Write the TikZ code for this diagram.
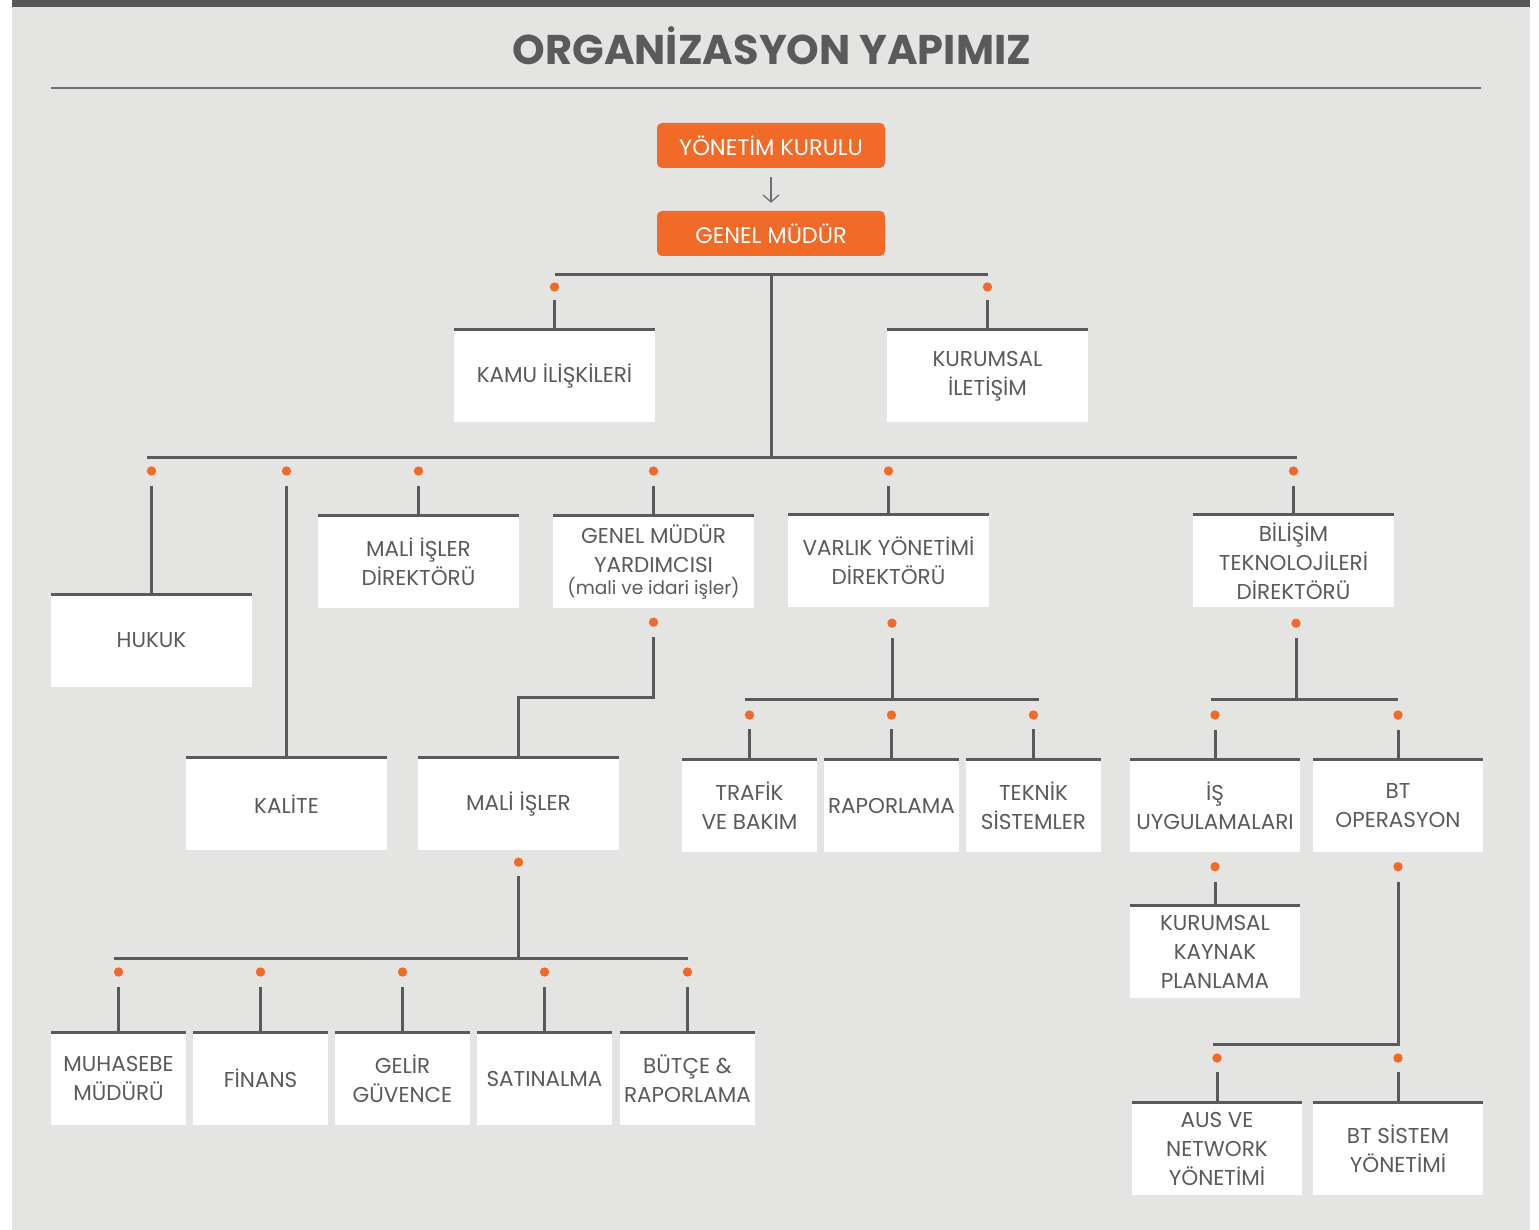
\documentclass[tikz,border=0pt]{standalone}
\usepackage{fontspec}
\setmainfont{Poppins}
\usepackage{xcolor}
\usetikzlibrary{positioning, arrows.meta}

\definecolor{panel}{HTML}{E4E4E2}
\definecolor{topbar}{HTML}{585858}
\definecolor{ink}{HTML}{5A5A5A}
\definecolor{brand}{HTML}{F26A27}
\definecolor{rulegray}{HTML}{707070}

\begin{document}
\begin{tikzpicture}[x=1pt, y=-1pt,
        orgbox/.style={fill=white, minimum width=201pt, minimum height=92pt, inner sep=0pt, align=center, text=ink, font=\fontsize{21.5}{29}\selectfont},
        orgnarrow/.style={orgbox, minimum width=135pt},
        orgmid/.style={orgbox, minimum width=170pt},
        lead/.style={fill=brand, rounded corners=5pt, minimum width=228pt, minimum height=45pt, inner sep=0pt, text=white, font=\fontsize{22.5}{26}\selectfont},
        wire/.style={draw=ink, line width=3pt},
        joint/.style={fill=brand},
        flow/.style={draw=rulegray, line width=1.3pt, -{Straight Barb[length=7pt, width=16pt]}},
    ]
    \useasboundingbox (0,0) rectangle (1539,1230);

    % Panel and title
    \fill[panel] (12,0) rectangle (1530,1230);
    \fill[topbar] (12,0) rectangle (1530,7);
    \node[anchor=base, text=ink, font=\fontsize{41.5}{46}\selectfont\bfseries] (title) at (772,65) {ORGANİZASYON YAPIMIZ};
    \draw[rulegray, line width=1.5pt] (51,88) -- (1481,88);

    % Board and general manager
    \node[lead] (yk) at (771,145.5) {YÖNETİM KURULU};
    \node[lead] (gm) at (771,233.5) {GENEL MÜDÜR};
    \draw[flow] ([yshift=-9pt]yk.south) -- ([yshift=8pt]gm.north);

    % Units
    \node[orgbox] (kamu) at (554.5,376) {KAMU İLİŞKİLERİ};
    \node[orgbox] (kurumsal) at (987.5,376) {KURUMSAL\\İLETİŞİM};
    \node[orgbox] (hukuk) at (151.5,640.5) {HUKUK};
    \node[orgbox] (kalite) at (286.5,804) {KALİTE};
    \node[orgbox] (malidir) at (418.5,562) {MALİ İŞLER\\DİREKTÖRÜ};
    \node[orgbox] (gmy) at (653.5,562) {GENEL MÜDÜR\\YARDIMCISI\\[-7pt]{\fontsize{18.5}{22}\selectfont(mali ve idari işler)}};
    \node[orgbox] (varlik) at (888.5,561) {VARLIK YÖNETİMİ\\DİREKTÖRÜ};
    \node[orgbox] (bilisim) at (1293.5,561) {BİLİŞİM\\TEKNOLOJİLERİ\\DİREKTÖRÜ};
    \node[orgbox] (mali) at (518.5,804) {MALİ İŞLER};
    \node[orgnarrow] (trafik) at (749.5,805.5) {TRAFİK\\VE BAKIM};
    \node[orgnarrow] (rapor) at (891.5,805.5) {RAPORLAMA};
    \node[orgnarrow] (teknik) at (1033.5,805.5) {TEKNİK\\SİSTEMLER};
    \node[orgmid] (isuyg) at (1215,805.5) {İŞ\\UYGULAMALARI};
    \node[orgmid] (btops) at (1398,805.5) {BT\\OPERASYON};
    \node[orgmid] (kkp) at (1215,951.5) {KURUMSAL\\KAYNAK\\PLANLAMA};
    \node[orgmid] (aus) at (1217,1149) {AUS VE\\NETWORK\\YÖNETİMİ};
    \node[orgmid] (btsis) at (1398,1149) {BT SİSTEM\\YÖNETİMİ};
    \node[orgnarrow] (muh) at (118.5,1078.5) {MUHASEBE\\MÜDÜRÜ};
    \node[orgnarrow] (fin) at (260.5,1078.5) {FİNANS};
    \node[orgnarrow] (gelir) at (402.5,1078.5) {GELİR\\GÜVENCE};
    \node[orgnarrow] (satin) at (544.5,1078.5) {SATINALMA};
    \node[orgnarrow] (butce) at (687.5,1078.5) {BÜTÇE \&\\RAPORLAMA};

    % Top edge of every unit
    \foreach \n in {kamu,kurumsal,hukuk,kalite,malidir,gmy,varlik,bilisim,mali,trafik,rapor,teknik,isuyg,btops,kkp,aus,btsis,muh,fin,gelir,satin,butce}
        \draw[wire] (\n.north west) -- (\n.north east);

    % Buses
    \coordinate (b1) at (771,275);
    \coordinate (b2) at (771,457);
    \coordinate (b3) at (653,697);
    \coordinate (b4) at (519,958);
    \coordinate (b5) at (892,699);
    \coordinate (b6) at (1296,699);
    \coordinate (b7) at (1398,1044);

    \draw[wire] (kamu.north |- b1) -- (kurumsal.north |- b1);
    \draw[wire] (b1) -- (b2);
    \draw[wire] ([xshift=-5pt]hukuk.north |- b2) -- ([xshift=3pt]bilisim.north |- b2);

    % Under general manager
    \foreach \n in {kamu,kurumsal} {
        \fill[joint] ([yshift=-12pt]\n.north |- b1) circle (4.7);
        \draw[wire] ([yshift=-25pt]\n.north |- b1) -- (\n.north);
    }
    \foreach \n in {hukuk,kalite,malidir,gmy,varlik,bilisim} {
        \fill[joint] ([yshift=-14pt]\n.north |- b2) circle (4.7);
        \draw[wire] ([yshift=-29pt]\n.north |- b2) -- (\n.north);
    }

    % Deputy general manager
    \fill[joint] ([yshift=-14pt]gmy.south) circle (4.7);
    \draw[wire] ([yshift=-29pt]gmy.south) |- (mali.north |- b3) -- (mali.north);

    % Finance
    \fill[joint] ([yshift=-12pt]mali.south) circle (4.7);
    \draw[wire] ([yshift=-26pt]mali.south) -- (mali.south |- b4);
    \draw[wire] ([xshift=-5pt]muh.north |- b4) -- (butce.north |- b4);
    \foreach \n in {muh,fin,gelir,satin,butce} {
        \fill[joint] ([yshift=-14pt]\n.north |- b4) circle (4.7);
        \draw[wire] ([yshift=-29pt]\n.north |- b4) -- (\n.north);
    }

    % Asset management
    \fill[joint] ([yshift=-16pt]b5 |- varlik.south) circle (4.7);
    \draw[wire] ([yshift=-31pt]b5 |- varlik.south) -- (b5);
    \draw[wire] ([xshift=-5pt]trafik.north |- b5) -- ([xshift=5pt]teknik.north |- b5);
    \foreach \n in {trafik,rapor,teknik} {
        \fill[joint] ([yshift=-16pt]\n.north |- b5) circle (4.7);
        \draw[wire] ([yshift=-30pt]\n.north |- b5) -- (\n.north);
    }

    % Information technologies
    \fill[joint] ([yshift=-16pt]b6 |- bilisim.south) circle (4.7);
    \draw[wire] ([yshift=-31pt]b6 |- bilisim.south) -- (b6);
    \draw[wire] ([xshift=-4pt]isuyg.north |- b6) -- (btops.north |- b6);
    \foreach \n in {isuyg,btops} {
        \fill[joint] ([yshift=-16pt]\n.north |- b6) circle (4.7);
        \draw[wire] ([yshift=-31pt]\n.north |- b6) -- (\n.north);
    }
    \fill[joint] ([yshift=-15pt]isuyg.south) circle (4.7);
    \draw[wire] ([yshift=-30pt]isuyg.south) -- (kkp.north);
    \fill[joint] ([yshift=-15pt]btops.south) circle (4.7);
    \draw[wire] ([yshift=-30pt]btops.south) -- (b7) -- ([xshift=-4pt]aus.north |- b7);
    \foreach \n in {aus,btsis} {
        \fill[joint] ([yshift=-14pt]\n.north |- b7) circle (4.7);
        \draw[wire] ([yshift=-28pt]\n.north |- b7) -- (\n.north);
    }
\end{tikzpicture}
\end{document}
